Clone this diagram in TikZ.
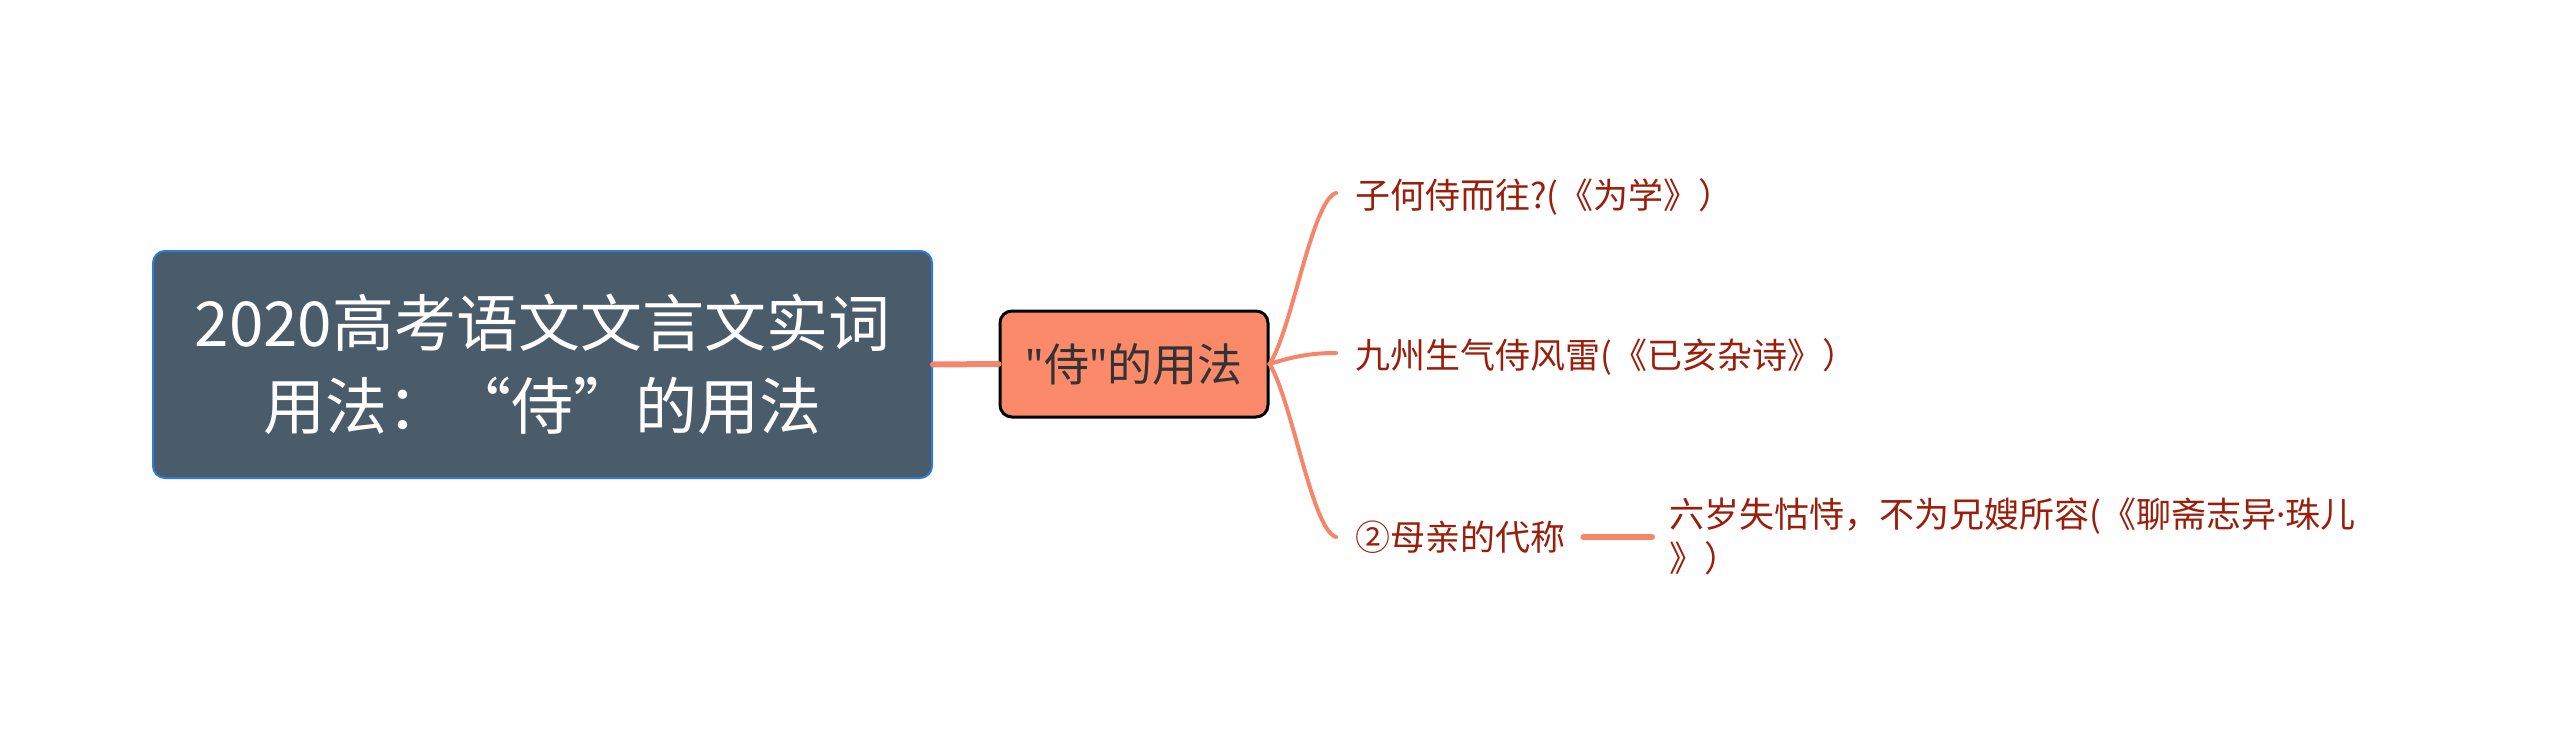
\documentclass[tikz,border=0pt]{standalone}
\usepackage{fontspec}
\setmainfont{Noto Sans CJK SC}
\newfontfamily\latinfont{Noto Sans}
\definecolor{rootfill}{HTML}{4A5B6A}
\definecolor{rootborder}{HTML}{2F7BD8}
\definecolor{midfill}{HTML}{FB8A6A}
\definecolor{linkc}{HTML}{F4876B}
\definecolor{leafc}{HTML}{9A1E0A}
\definecolor{midtext}{HTML}{333333}
\tikzset{
  rootbox/.style={draw=rootborder, line width=2pt, fill=rootfill, rounded corners=12pt,
    minimum width=779pt, minimum height=227pt, text=white, align=center,
    font=\fontsize{62}{83}\selectfont, inner sep=0pt},
  midbox/.style={draw=black, line width=3pt, fill=midfill, rounded corners=12pt,
    minimum width=268pt, minimum height=106pt, text=midtext,
    font=\fontsize{45}{50}\selectfont, inner sep=0pt},
  leaf/.style={text=leafc, anchor=west, inner sep=0pt, font=\fontsize{35}{44}\selectfont, align=left},
  link/.style={draw=linkc, line width=6pt, line cap=round},
  branch/.style={draw=linkc, line width=4pt, line cap=round},
}
\begin{document}
\begin{tikzpicture}[x=1pt,y=-1pt]
\useasboundingbox (0,0) rectangle (2560,753);
\node[rootbox] (root) at (542.5,364.5) {2020高考语文文言文实词\\用法：“侍”的用法};
\node[midbox] (mid) at (1134,364) {{\latinfont\char34}侍{\latinfont\char34}的用法};
\node[leaf] (l1) at (1355,197) {子何侍而往?(《为学》）};
\node[leaf] (l2) at (1355,357) {九州生气侍风雷(《已亥杂诗》）};
\node[leaf] (l3) at (1355,537) {②母亲的代称};
\node[leaf] (l4) at (1669,536) {六岁失怙恃，不为兄嫂所容(《聊斋志异{\latinfont ·}珠儿\\》）};
\coordinate (b1) at (1336,193);
\coordinate (b2) at (1336,353);
\coordinate (b3) at (1336,537);
\draw[link] (root.east) -- (mid.west);
\draw[branch] (mid.east) .. controls (1292,330) and (1312,200) .. (b1);
\draw[branch] (mid.east) .. controls (1295,356) and (1312,353) .. (b2);
\draw[branch] (mid.east) .. controls (1292,400) and (1312,530) .. (b3);
\draw[link] ([xshift=18pt]l3.east) -- ([xshift=-17pt]l4.west |- l3.east);
\end{tikzpicture}
\end{document}
